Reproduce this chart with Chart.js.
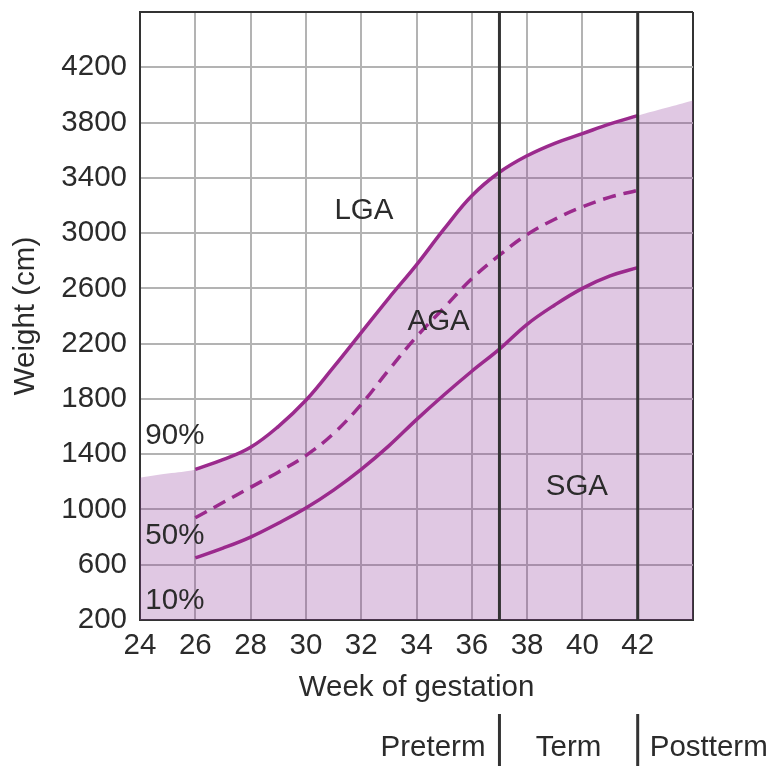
<!DOCTYPE html>
<html>
<head>
<meta charset="utf-8">
<title>Fetal weight by gestational age</title>
<script src="https://cdn.jsdelivr.net/npm/chart.js@4.4.1/dist/chart.umd.min.js"></script>
<style>
  html, body { margin: 0; padding: 0; background: #fff; }
  #wrap { width: 774px; height: 771px; }
</style>
</head>
<body>
<div id="wrap"><canvas id="chart" width="774" height="771"></canvas></div>
<script>
/* ---- data ---- */
const weeks = [26, 27, 28, 29, 30, 31, 32, 33, 34, 35, 36, 37, 38, 39, 40, 41, 42];
const p90 = [1290, 1360, 1450, 1600, 1790, 2030, 2280, 2530, 2770, 3030, 3270, 3440, 3560, 3650, 3720, 3790, 3850];
const p50 = [940, 1050, 1160, 1270, 1390, 1550, 1760, 2010, 2250, 2460, 2670, 2840, 2990, 3100, 3190, 3260, 3310];
const p10 = [650, 720, 800, 900, 1010, 1140, 1290, 1460, 1650, 1830, 2000, 2160, 2340, 2480, 2600, 2690, 2750];

// shaded band (upper edge of the lavender area, whole axis span)
const shadeWeeks = [24, 25, 26, 27, 28, 29, 30, 31, 32, 33, 34, 35, 36, 37, 38, 39, 40, 41, 42, 43, 44];
const shadeTop = [1230, 1260, 1290, 1360, 1450, 1600, 1790, 2030, 2280, 2530, 2770, 3030, 3270, 3440, 3560, 3650, 3720, 3790, 3850, 3905, 3960];

const weekTicks = [24, 26, 28, 30, 32, 34, 36, 38, 40, 42];
const weightTicks = [200, 600, 1000, 1400, 1800, 2200, 2600, 3000, 3400, 3800, 4200];

const termBounds = [37, 42];
const termLabels = ['Preterm', 'Term', 'Postterm'];

const COLORS = {
  curve: '#9b2a8d',
  shade: 'rgba(140, 50, 150, 0.27)',
  grid: '#b3b3b3',
  frame: '#333333',
  text: '#2b2b2b',
};
const FONT = { family: "'Liberation Sans', Arial, Helvetica, sans-serif", size: 29.5 };

const X_MIN = 24, X_MAX = 44, Y_MIN = 200, Y_MAX = 4600;

// text placed inside the plot, in data units
const regionLabels = [
  { text: 'LGA', x: 32.1, y: 3160 },
  { text: 'AGA', x: 34.8, y: 2360 },
  { text: 'SGA', x: 39.8, y: 1160 },
  { text: '90%', x: 25.26, y: 1530 },
  { text: '50%', x: 25.26, y: 810 },
  { text: '10%', x: 25.26, y: 340 },
];

const toPoints = (xs, ys) => xs.map((x, i) => ({ x, y: ys[i] }));

/* ---- plugin: region labels + term strip under the axis ---- */
const annotations = {
  id: 'annotations',
  afterDatasetsDraw(chart) {
    const { ctx, scales: { x, y } } = chart;
    ctx.save();
    ctx.font = `${FONT.size}px ${FONT.family}`;
    ctx.fillStyle = COLORS.text;
    ctx.textAlign = 'center';
    ctx.textBaseline = 'middle';
    for (const l of regionLabels) {
      ctx.fillText(l.text, x.getPixelForValue(l.x), y.getPixelForValue(l.y));
    }
    ctx.restore();
  },
  afterDraw(chart) {
    const { ctx, scales: { x } } = chart;
    const a = x.getPixelForValue(termBounds[0]);
    const b = x.getPixelForValue(termBounds[1]);
    const top = 714, bottom = 766, mid = 748;
    ctx.save();
    ctx.strokeStyle = COLORS.frame;
    ctx.lineWidth = 3;
    for (const px of [a, b]) {
      ctx.beginPath();
      ctx.moveTo(px, top);
      ctx.lineTo(px, bottom);
      ctx.stroke();
    }
    ctx.font = `${FONT.size}px ${FONT.family}`;
    ctx.fillStyle = COLORS.text;
    ctx.textBaseline = 'middle';
    ctx.textAlign = 'right';
    ctx.fillText(termLabels[0], a - 14, mid);
    ctx.textAlign = 'center';
    ctx.fillText(termLabels[1], (a + b) / 2, mid);
    ctx.textAlign = 'left';
    ctx.fillText(termLabels[2], b + 12, mid);
    ctx.restore();
  },
};

const curve = (label, ys, dash) => ({
  label,
  data: toPoints(weeks, ys),
  borderColor: COLORS.curve,
  borderWidth: 3.5,
  borderDash: dash || [],
  pointRadius: 0,
  tension: 0.4,
  fill: false,
  order: 1,
});

const divider = (wk) => ({
  label: 'wk ' + wk,
  data: [{ x: wk, y: Y_MIN }, { x: wk, y: Y_MAX }],
  borderColor: COLORS.frame,
  borderWidth: 3,
  pointRadius: 0,
  fill: false,
  order: 0,
});

const frameColor = (edges) => (ctx) =>
  edges.includes(ctx.tick && ctx.tick.value) ? COLORS.frame : COLORS.grid;

new Chart(document.getElementById('chart'), {
  type: 'line',
  data: {
    datasets: [
      divider(termBounds[0]),
      divider(termBounds[1]),
      curve('90%', p90),
      curve('50%', p50, [13, 8]),
      curve('10%', p10),
      {
        label: 'shade',
        data: toPoints(shadeWeeks, shadeTop),
        borderWidth: 0,
        borderColor: 'rgba(0,0,0,0)',
        backgroundColor: COLORS.shade,
        pointRadius: 0,
        tension: 0.4,
        fill: 'start',
        order: 2,
      },
    ],
  },
  options: {
    responsive: false,
    animation: false,
    events: [],
    layout: { padding: { left: 0, top: 12, right: 81, bottom: 0 } },
    plugins: { legend: { display: false }, tooltip: { enabled: false } },
    scales: {
      x: {
        type: 'linear',
        min: X_MIN,
        max: X_MAX,
        afterFit: (s) => { s.height = 151; s.paddingLeft = 0; s.paddingRight = 0; },
        ticks: {
          stepSize: 2,
          padding: 8,
          maxRotation: 0,
          autoSkip: false,
          color: COLORS.text,
          font: FONT,
          callback: (v) => (weekTicks.includes(v) ? String(v) : ''),
        },
        grid: { color: frameColor([X_MIN, X_MAX]), lineWidth: 2, drawTicks: false },
        border: { display: true, color: COLORS.frame, width: 2 },
        title: {
          display: true,
          text: 'Week of gestation',
          color: COLORS.text,
          font: FONT,
          padding: { top: 0, bottom: 65 },
        },
      },
      y: {
        min: Y_MIN,
        max: Y_MAX,
        afterFit: (s) => { s.width = 140; s.paddingTop = 0; s.paddingBottom = 0; },
        ticks: {
          stepSize: 400,
          padding: 13,
          color: COLORS.text,
          font: FONT,
          callback: (v) => (weightTicks.includes(v) ? String(v) : ''),
        },
        grid: { color: frameColor([Y_MIN, Y_MAX]), lineWidth: 2, drawTicks: false },
        border: { display: true, color: COLORS.frame, width: 2 },
        title: {
          display: true,
          text: 'Weight (cm)',
          color: COLORS.text,
          font: FONT,
          padding: { top: 8, bottom: 0 },
        },
      },
    },
  },
  plugins: [annotations],
});
</script>
</body>
</html>
